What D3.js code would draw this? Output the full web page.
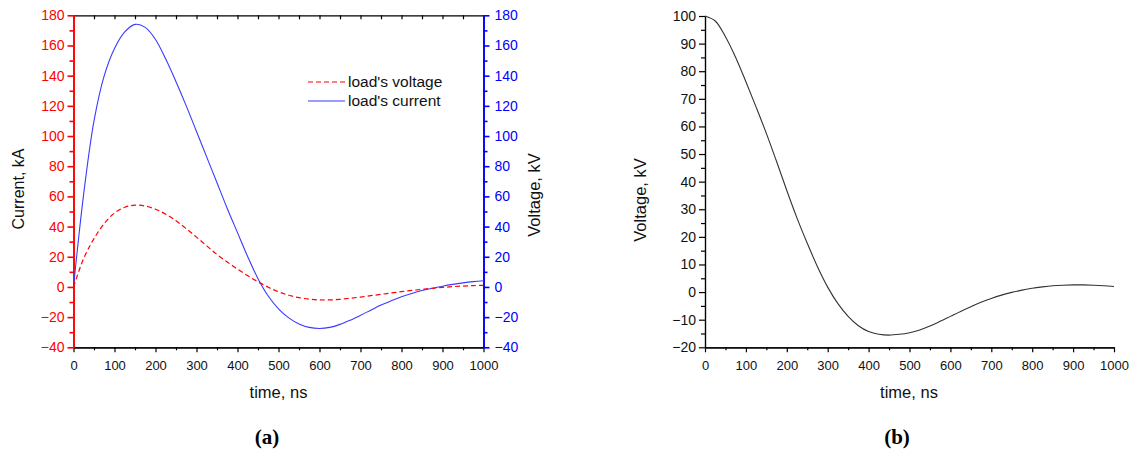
<!DOCTYPE html>
<html>
<head>
<meta charset="utf-8">
<script src="https://cdn.jsdelivr.net/npm/d3@7"></script>
<style>
  body { margin: 0; background: #fff; }
  svg { display: block; font-family: "Liberation Sans", Arial, sans-serif; }
</style>
</head>
<body>
<svg id="chart" width="1135" height="453"></svg>
<script>
// time samples, ns
const time = [0, 25, 50, 75, 100, 125, 150, 175, 200, 225, 250, 275, 300, 325, 350, 375,
  400, 425, 450, 475, 500, 525, 550, 575, 600, 625, 650, 675, 700, 725, 750, 775,
  800, 825, 850, 875, 900, 925, 950, 975, 1000];

// (a) load's current, kA
const loadCurrent = [0, 62, 110, 140, 158, 169, 174, 172, 164, 151, 136, 120, 103, 86, 69, 52,
  36, 20, 5.5, -6, -14.5, -20.5, -24.5, -26.8, -27.5, -26.8, -24.8, -22, -18.8, -15.4, -12, -9.2,
  -6.5, -4.3, -2.4, -0.9, 0.5, 1.7, 2.7, 3.5, 4.1];

// (a) load's voltage, kV
const loadVoltage = [0, 19, 32, 42, 49, 52.8, 54.2, 53.6, 51.5, 48.2, 43.8, 38.6, 33, 27.2, 21.5, 16.5,
  11.8, 7.4, 3.4, -0.2, -3.2, -5.5, -7.1, -8.1, -8.6, -8.6, -8.2, -7.5, -6.7, -5.8, -4.9, -4.0,
  -3.1, -2.3, -1.6, -0.9, -0.3, 0.2, 0.6, 0.9, 1.1];

// (b) voltage, kV
const voltageB = [100, 98.2, 92.5, 85, 76.2, 67, 57.5, 47.3, 36.8, 26.8, 17.7, 9.2, 1.8, -4.2, -8.8, -12.2,
  -14.3, -15.3, -15.6, -15.3, -14.7, -13.7, -12.3, -10.6, -8.8, -7, -5.3, -3.7, -2.3, -1.1, -0.1, 0.7,
  1.4, 1.9, 2.3, 2.5, 2.6, 2.6, 2.5, 2.3, 2.0];

// tick labels
const timeTicks = [0, 100, 200, 300, 400, 500, 600, 700, 800, 900, 1000];
const timeMinor = [50, 150, 250, 350, 450, 550, 650, 750, 850, 950];
const aTicks = [-40, -20, 0, 20, 40, 60, 80, 100, 120, 140, 160, 180];
const aMinor = [-30, -10, 10, 30, 50, 70, 90, 110, 130, 150, 170];
const bTicks = [-20, -10, 0, 10, 20, 30, 40, 50, 60, 70, 80, 90, 100];
const bMinor = [-15, -5, 5, 15, 25, 35, 45, 55, 65, 75, 85, 95];

const svg = d3.select("#chart");
const fmt = d3.format("d");

// style an axis group after it was drawn
function paint(g, color, width, fontSize) {
  g.select(".domain").attr("stroke", color).attr("stroke-width", width);
  g.selectAll(".tick line").attr("stroke", color).attr("stroke-width", width);
  g.selectAll(".tick text").attr("fill", color === "#000" ? "#111" : color)
    .style("font-size", fontSize + "px");
  g.attr("font-family", null).attr("font-size", null);
}

function addAxis(axis, tx, ty, color, width, fontSize) {
  let g = svg.append("g").attr("transform", "translate(" + tx + "," + ty + ")").call(axis);
  paint(g, color, width, fontSize);
  return g;
}

// ---------- panel (a) ----------
let xa = d3.scaleLinear().domain([0, 1000]).range([73.5, 483.5]);
let ya = d3.scaleLinear().domain([-40, 180]).range([347.3, 15.3]);

// top frame, ticks pointing in
addAxis(d3.axisBottom(xa).tickValues(timeTicks.concat(timeMinor)).tickSize(4).tickSizeOuter(0).tickFormat(""),
  0, ya(180), "#000", 1.2, 13);
// bottom axis
addAxis(d3.axisBottom(xa).tickValues(timeMinor).tickSize(3).tickSizeOuter(0).tickFormat(""),
  0, ya(-40), "#000", 1.2, 13);
addAxis(d3.axisBottom(xa).tickValues(timeTicks).tickFormat(fmt).tickSize(5).tickSizeOuter(0).tickPadding(8),
  0, ya(-40), "#000", 1.2, 13);

// left axis (red)
addAxis(d3.axisLeft(ya).tickValues(aMinor).tickSize(4).tickSizeOuter(0).tickFormat(""),
  xa(0), 0, "#ff0000", 1.6, 14);
addAxis(d3.axisLeft(ya).tickValues(aTicks).tickFormat(fmt).tickSize(6).tickSizeOuter(0).tickPadding(3),
  xa(0), 0, "#ff0000", 1.6, 14);

// right axis (blue)
addAxis(d3.axisRight(ya).tickValues(aMinor).tickSize(4).tickSizeOuter(0).tickFormat(""),
  xa(1000), 0, "#0000ff", 1.6, 14);
addAxis(d3.axisRight(ya).tickValues(aTicks).tickFormat(fmt).tickSize(6).tickSizeOuter(0).tickPadding(5),
  xa(1000), 0, "#0000ff", 1.6, 14);

let lineA = (vals) => d3.line()
  .x((d, i) => xa(time[i]))
  .y((d) => ya(d))
  .curve(d3.curveCatmullRom.alpha(0.5))(vals);

svg.append("path")
  .attr("d", lineA(loadCurrent))
  .attr("fill", "none")
  .attr("stroke", "#3a3aff")
  .attr("stroke-width", 1.1);

svg.append("path")
  .attr("d", lineA(loadVoltage))
  .attr("fill", "none")
  .attr("stroke", "#ff0000")
  .attr("stroke-width", 1.2)
  .attr("stroke-dasharray", "5,3");

// legend
let legend = svg.append("g").attr("transform", "translate(308,0)");
legend.append("line").attr("x1", 0).attr("x2", 37).attr("y1", 82).attr("y2", 82)
  .attr("stroke", "#ff0000").attr("stroke-width", 1.2).attr("stroke-dasharray", "5,3");
legend.append("line").attr("x1", 0).attr("x2", 37).attr("y1", 101).attr("y2", 101)
  .attr("stroke", "#3a3aff").attr("stroke-width", 1.1);
legend.append("text").attr("x", 40).attr("y", 82).attr("dy", "0.35em")
  .style("font-size", "15.5px").attr("fill", "#111").text("load's voltage");
legend.append("text").attr("x", 40).attr("y", 101).attr("dy", "0.35em")
  .style("font-size", "15.5px").attr("fill", "#111").text("load's current");

// axis titles
svg.append("text").attr("transform", "translate(18,189) rotate(-90)")
  .attr("text-anchor", "middle").attr("dy", "0.35em")
  .style("font-size", "16px").attr("fill", "#111").text("Current, kA");
svg.append("text").attr("transform", "translate(534,195) rotate(-90)")
  .attr("text-anchor", "middle").attr("dy", "0.35em")
  .style("font-size", "16.5px").attr("fill", "#111").text("Voltage, kV");
svg.append("text").attr("x", 278.5).attr("y", 398)
  .attr("text-anchor", "middle")
  .style("font-size", "16.5px").attr("fill", "#111").text("time, ns");
svg.append("text").attr("x", 267).attr("y", 444)
  .attr("text-anchor", "middle")
  .style("font-family", "'Liberation Serif', 'Times New Roman', serif")
  .style("font-size", "21px").style("font-weight", "bold").attr("fill", "#000").text("(a)");

// ---------- panel (b) ----------
let xb = d3.scaleLinear().domain([0, 1000]).range([705, 1114]);
let yb = d3.scaleLinear().domain([-20, 100]).range([347.3, 16]);

addAxis(d3.axisBottom(xb).tickValues(timeMinor).tickSize(3).tickSizeOuter(0).tickFormat(""),
  0, yb(-20), "#000", 1.2, 13);
addAxis(d3.axisBottom(xb).tickValues(timeTicks).tickFormat(fmt).tickSize(5).tickSizeOuter(0).tickPadding(8),
  0, yb(-20), "#000", 1.2, 13);
addAxis(d3.axisLeft(yb).tickValues(bMinor).tickSize(4).tickSizeOuter(0).tickFormat(""),
  xb(0), 0, "#000", 1.2, 14);
addAxis(d3.axisLeft(yb).tickValues(bTicks).tickFormat(fmt).tickSize(6).tickSizeOuter(0).tickPadding(3),
  xb(0), 0, "#000", 1.2, 14);

svg.append("path")
  .attr("d", d3.line()
    .x((d, i) => xb(time[i]))
    .y((d) => yb(d))
    .curve(d3.curveCatmullRom.alpha(0.5))(voltageB))
  .attr("fill", "none")
  .attr("stroke", "#333")
  .attr("stroke-width", 1.1);

svg.append("text").attr("transform", "translate(640,200) rotate(-90)")
  .attr("text-anchor", "middle").attr("dy", "0.35em")
  .style("font-size", "16.5px").attr("fill", "#111").text("Voltage, kV");
svg.append("text").attr("x", 909).attr("y", 398)
  .attr("text-anchor", "middle")
  .style("font-size", "16.5px").attr("fill", "#111").text("time, ns");
svg.append("text").attr("x", 897).attr("y", 444)
  .attr("text-anchor", "middle")
  .style("font-family", "'Liberation Serif', 'Times New Roman', serif")
  .style("font-size", "21px").style("font-weight", "bold").attr("fill", "#000").text("(b)");
</script>
</body>
</html>
